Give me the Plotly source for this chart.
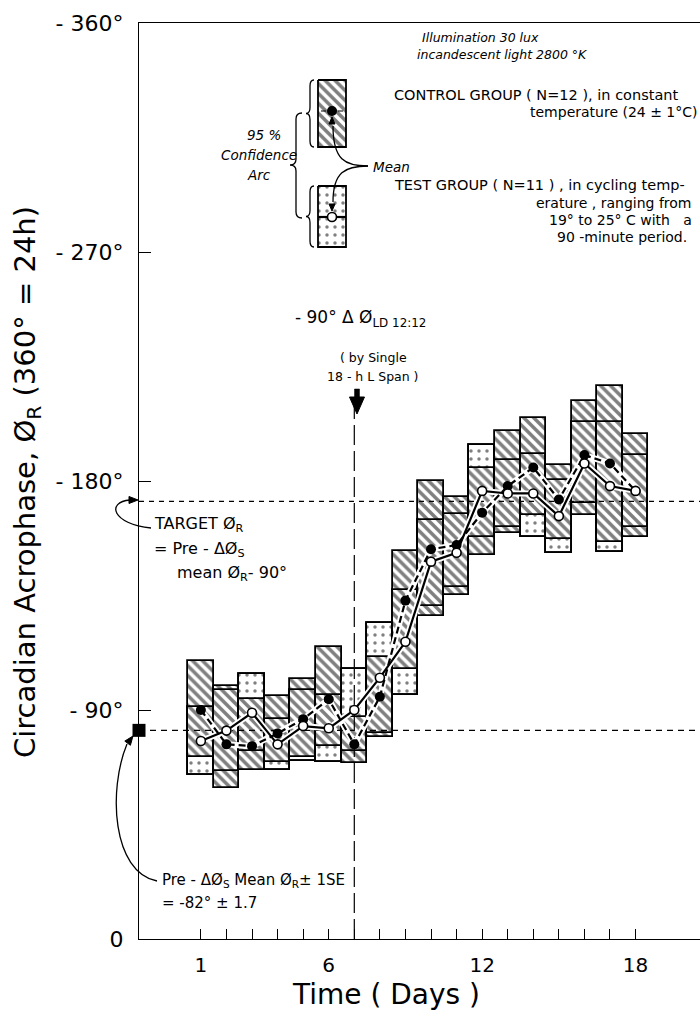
import plotly.graph_objects as go

# ---------------- data (degrees, 360 deg = 24 h) ----------------
days = list(range(1, 19))
# control group (constant temperature): 95% confidence arc and mean
ctrl_lo = [-71.6, -59.2, -66.4, -69.7, -71.6, -75.8, -69.0, -79.5, -106.3, -127.0,
           -135.2, -150.9, -159.4, -166.6, -157.4, -166.6, -156.1, -158.0]
ctrl_hi = [-109.3, -99.5, -94.5, -95.5, -102.2, -114.6, -87.3, -110.9, -152.6, -180.0,
           -173.8, -185.3, -199.8, -204.6, -186.2, -211.5, -217.4, -198.4]
ctrl_mean = [-90.0, -76.5, -75.8, -80.8, -86.4, -94.2, -76.5, -95.2, -133.0, -153.2,
             -154.8, -167.5, -178.0, -185.3, -172.7, -190.2, -186.9, -176.1]
# test group (cycling temperature)
test_lo = [-64.4, -66.0, -73.8, -66.4, -70.0, -69.7, -74.0, -81.0, -95.9, -131.0,
           -138.4, -157.9, -162.0, -158.0, -151.8, -171.2, -152.2, -162.0]
test_hi = [-91.2, -98.0, -104.0, -86.6, -97.8, -96.0, -106.3, -124.3, -137.0, -164.6,
           -167.2, -194.3, -188.2, -190.8, -180.5, -203.3, -203.0, -190.2]
test_mean = [-77.8, -81.9, -88.9, -76.5, -83.7, -82.8, -90.0, -102.7, -116.8, -148.3,
             -151.8, -176.1, -175.1, -175.1, -166.2, -186.9, -178.0, -176.1]

pre_mean = -82.0          # pre-shift mean acrophase
target = -172.0           # target acrophase = pre mean - 90
shift_day = 7             # day of the single 18-h light span

y_ticks = [0, -90, -180, -270, -360]
y_tick_text = ["0", "- 90°", "- 180°", "- 270°", "- 360°"]
x_tick_text = {1: "1", 6: "6", 12: "12", 18: "18"}

# ---------------- layout geometry ----------------
W, H = 700, 1021
L, R, T, B = 139, 700, 23, 939
X_RANGE = [-1.42, 20.52]
FONT = "DejaVu Sans"


def px(x):
    return (x - L) / (R - L)


def py(y):
    return (B - y) / (B - T)


def path(cmds):
    out = []
    for c in cmds:
        op, pts = c[0], c[1:]
        s = op
        for i in range(0, len(pts), 2):
            s += " %.5f,%.5f" % (px(pts[i]), py(pts[i + 1]))
        out.append(s)
    return " ".join(out)


shapes = []


def add_path(cmds, width=1.3, fill=None, close=False):
    p = path(cmds) + (" Z" if close else "")
    d = dict(type="path", xref="paper", yref="paper", path=p,
             line=dict(color="black", width=width), layer="above")
    if fill:
        d["fillcolor"] = fill
    shapes.append(d)


def arrow_head(tx, ty, dx, dy, size=7, half=3.5):
    n = (dx * dx + dy * dy) ** 0.5
    ux, uy = dx / n, dy / n
    bx, by = tx - ux * size, ty - uy * size
    vx, vy = -uy, ux
    add_path([("M", tx, ty), ("L", bx + vx * half, by + vy * half),
              ("L", bx - vx * half, by - vy * half)], width=1, fill="black", close=True)


def brace(xr, xl, y0, y1, ym=None):
    if ym is None:
        ym = (y0 + y1) / 2
    xm = (xr + xl) / 2
    d = 6
    add_path([("M", xr, y0), ("Q", xm, y0, xm, y0 + d), ("L", xm, ym - d),
              ("Q", xm, ym, xl, ym), ("Q", xm, ym, xm, ym + d), ("L", xm, y1 - d),
              ("Q", xm, y1, xr, y1)], width=1.3)


fig = go.Figure()

# reference lines (under the boxes)
fig.add_trace(go.Scatter(x=[X_RANGE[0], X_RANGE[1]], y=[pre_mean, pre_mean], mode="lines",
                         line=dict(color="black", width=1.2, dash="6px,5px"),
                         hoverinfo="skip", showlegend=False))
fig.add_trace(go.Scatter(x=[X_RANGE[0], X_RANGE[1]], y=[target, target], mode="lines",
                         line=dict(color="black", width=1.2, dash="5px,5px"),
                         hoverinfo="skip", showlegend=False))
fig.add_trace(go.Scatter(x=[shift_day, shift_day], y=[0, -210], mode="lines",
                         line=dict(color="black", width=1.2, dash="20px,6px"),
                         hoverinfo="skip", showlegend=False))

dot_pat = dict(shape=".", size=8, solidity=0.15, fgcolor="black", bgcolor="white")
hatch_pat = dict(shape="\\", size=7, solidity=0.5, fgcolor="black", bgcolor="white")

# test group boxes (dotted)
fig.add_trace(go.Bar(x=days, base=test_lo, y=[h - l for l, h in zip(test_lo, test_hi)],
                     width=1.0, marker=dict(color="white", pattern=dot_pat,
                                            line=dict(color="black", width=1.8)),
                     showlegend=False, hoverinfo="skip"))
# control group boxes (hatched)
fig.add_trace(go.Bar(x=days, base=ctrl_lo, y=[h - l for l, h in zip(ctrl_lo, ctrl_hi)],
                     width=1.0, marker=dict(color="white", pattern=hatch_pat,
                                            line=dict(color="black", width=1.8)),
                     showlegend=False, hoverinfo="skip"))
# test box outlines visible over the hatching
fig.add_trace(go.Bar(x=days, base=test_lo, y=[h - l for l, h in zip(test_lo, test_hi)],
                     width=1.0, marker=dict(color="rgba(0,0,0,0)",
                                            line=dict(color="black", width=1.8)),
                     showlegend=False, hoverinfo="skip"))

# mean lines with white halo
fig.add_trace(go.Scatter(x=days, y=ctrl_mean, mode="lines",
                         line=dict(color="white", width=6), hoverinfo="skip", showlegend=False))
fig.add_trace(go.Scatter(x=days, y=test_mean, mode="lines",
                         line=dict(color="white", width=6), hoverinfo="skip", showlegend=False))
fig.add_trace(go.Scatter(x=days, y=ctrl_mean, mode="lines+markers",
                         line=dict(color="black", width=2.2, dash="7px,4px"),
                         marker=dict(symbol="circle", size=10, color="black"),
                         name="Control", showlegend=False))
fig.add_trace(go.Scatter(x=days, y=test_mean, mode="lines+markers",
                         line=dict(color="black", width=2.2),
                         marker=dict(symbol="circle", size=9, color="white",
                                     line=dict(color="black", width=1.6)),
                         name="Test", showlegend=False))

# pre-shift mean square on the axis
fig.add_trace(go.Scatter(x=[X_RANGE[0]], y=[pre_mean], mode="markers",
                         marker=dict(symbol="square", size=13, color="black"),
                         cliponaxis=False, hoverinfo="skip", showlegend=False))

# ---------------- legend key drawn on a pixel overlay axis ----------------
fig.add_trace(go.Scatter(x=[318, 346, 346, 318, 318], y=[80, 80, 147, 147, 80],
                         xaxis="x2", yaxis="y2", mode="lines", fill="toself",
                         fillcolor="white", fillpattern=hatch_pat,
                         line=dict(color="black", width=1.8), hoverinfo="skip",
                         showlegend=False))
fig.add_trace(go.Scatter(x=[318, 346, 346, 318, 318], y=[186, 186, 247, 247, 186],
                         xaxis="x2", yaxis="y2", mode="lines", fill="toself",
                         fillcolor="white", fillpattern=dot_pat,
                         line=dict(color="black", width=1.8), hoverinfo="skip",
                         showlegend=False))
fig.add_trace(go.Scatter(x=[318, 346], y=[217, 217], xaxis="x2", yaxis="y2", mode="lines",
                         line=dict(color="black", width=2.2), hoverinfo="skip",
                         showlegend=False))
fig.add_trace(go.Scatter(x=[332], y=[111], xaxis="x2", yaxis="y2", mode="markers",
                         marker=dict(size=10, color="black"), hoverinfo="skip",
                         showlegend=False))
fig.add_trace(go.Scatter(x=[332], y=[217], xaxis="x2", yaxis="y2", mode="markers",
                         marker=dict(size=9, color="white", line=dict(color="black", width=1.6)),
                         hoverinfo="skip", showlegend=False))

# braces and arrows of the key
brace(314, 306, 80, 147)
brace(314, 306, 186, 247)
brace(302, 290, 113, 218, 165)
add_path([("M", 368, 166), ("C", 345, 166, 333, 160, 333, 126)])
arrow_head(332, 117, 0, -1, 7, 3)
add_path([("M", 368, 166), ("C", 345, 166, 333, 172, 333, 202)])
arrow_head(332, 211, 0, 1, 7, 3)
add_path([("M", 321, 111), ("L", 326, 111)], width=1)
add_path([("M", 338, 111), ("L", 343, 111)], width=1)

# thick arrow above the shift day
add_path([("M", 354.5, 389), ("L", 359.5, 389), ("L", 359.5, 398), ("L", 354.5, 398)],
         width=0.5, fill="black", close=True)
arrow_head(357, 414, 0, 1, 17, 7.5)

# target arrow and pre-mean arrow (outside plot to the left)
add_path([("M", 151, 528), ("C", 112, 524, 106, 502, 130, 500)], width=1.3)
arrow_head(138, 500, 1, 0, 9, 3.5)
add_path([("M", 157, 881), ("C", 112, 872, 108, 790, 127, 744)], width=1.3)
arrow_head(133, 736, 0.6, -0.8, 9, 3.5)

# ---------------- text ----------------
ann = []


def text(x, y, s, size=14, anchor="left", italic=False):
    ann.append(dict(x=px(x), y=py(y), xref="paper", yref="paper", text=s,
                    showarrow=False, xanchor=anchor, yanchor="middle",
                    font=dict(family=FONT, size=size, color="black",
                              style="italic" if italic else "normal")))


text(420, 38, "Illumination 30 lux", 12.5, italic=True)
text(415, 55, "incandescent light 2800 °K", 12.5, italic=True)
text(392, 95, "CONTROL GROUP ( N=12 ), in constant", 14.5)
text(700, 112, "temperature (24 ± 1°C)", 14, anchor="right")
text(392, 185, "TEST GROUP ( N=11 ) , in cycling temp-", 14.5)
text(694, 203, "erature , ranging from", 14, anchor="right")
text(694, 220, "19° to 25° C with   a", 14, anchor="right")
text(555, 237, "90 -minute period.", 14)
text(264, 135, "95 %", 13.5, "center", italic=True)
text(259, 155, "Confidence", 13.5, "center", italic=True)
text(259, 175, "Arc", 13.5, "center", italic=True)
text(371, 167, "Mean", 13.5, italic=True)
text(360, 318, "- 90° Δ Ø<sub>LD 12:12</sub>", 17, "center")
text(373, 357, "( by Single", 12.5, "center")
text(373, 377, "18 - h L Span )", 12.5, "center")
text(152, 524, "TARGET Ø<sub>R</sub>", 16)
text(152, 549, "= Pre - ΔØ<sub>S</sub>", 16)
text(175, 573, "mean Ø<sub>R</sub>- 90°", 16)
text(160, 880, "Pre - ΔØ<sub>S</sub> Mean Ø<sub>R</sub>± 1SE", 15)
text(160, 903, "= -82° ± 1.7", 15)
text(386, 995, "Time ( Days )", 28, "center")
ann.append(dict(x=px(27), y=py(482), xref="paper", yref="paper",
                text="Circadian Acrophase, Ø<sub>R</sub> (360° = 24h)", textangle=-90,
                showarrow=False, xanchor="center", yanchor="middle",
                font=dict(family=FONT, size=29, color="black")))

fig.update_layout(
    width=W, height=H, margin=dict(l=L, r=W - R, t=T, b=H - B),
    paper_bgcolor="white", plot_bgcolor="white", barmode="overlay", bargap=0,
    font=dict(family=FONT, color="black"),
    showlegend=False,
    xaxis=dict(range=X_RANGE, showgrid=False, zeroline=False, showline=True,
               linecolor="black", linewidth=1.3, mirror=True, ticks="inside",
               ticklen=10, tickwidth=1.2, tickcolor="black",
               tickvals=days, ticktext=[x_tick_text.get(d, "") for d in days],
               tickfont=dict(family=FONT, size=20), ticklabelstandoff=8),
    yaxis=dict(range=[0, -360], showgrid=False, zeroline=False, showline=True,
               linecolor="black", linewidth=1.3, ticks="inside", ticklen=12,
               tickwidth=1.2, tickcolor="black", tickvals=y_ticks, ticktext=y_tick_text,
               tickfont=dict(family=FONT, size=22), ticklabelstandoff=10),
    xaxis2=dict(range=[L, R], overlaying="x", visible=False, fixedrange=True),
    yaxis2=dict(range=[B, T], overlaying="y", visible=False, fixedrange=True),
    shapes=shapes, annotations=ann,
)

fig.write_html("out.html")
